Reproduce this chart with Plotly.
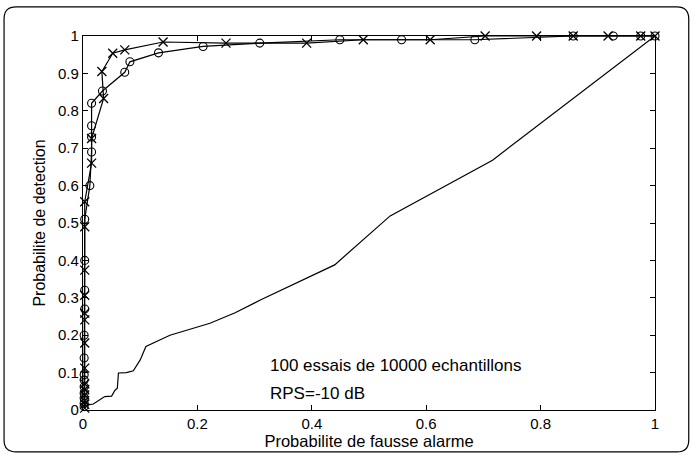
import plotly.graph_objects as go

# ---- data ----
pfa_o = [0.002, 0.002, 0.002, 0.002, 0.002, 0.002, 0.002, 0.002, 0.002, 0.003, 0.003, 0.003, 0.003,
         0.012, 0.015, 0.015, 0.015, 0.015, 0.034, 0.073, 0.082, 0.132, 0.21, 0.309, 0.449, 0.557,
         0.685, 0.857, 0.927, 0.975, 1.0]
pd_o = [0.009, 0.018, 0.032, 0.045, 0.062, 0.08, 0.094, 0.139, 0.2, 0.27, 0.32, 0.40, 0.51,
        0.60, 0.69, 0.73, 0.76, 0.82, 0.853, 0.903, 0.931, 0.955, 0.972, 0.981, 0.99, 0.99,
        0.99, 1.0, 1.0, 1.0, 1.0]

pfa_x = [0.003, 0.003, 0.003, 0.003, 0.003, 0.003, 0.003, 0.003, 0.003, 0.003, 0.003, 0.003, 0.003, 0.003,
         0.015, 0.015, 0.036, 0.033, 0.052, 0.073, 0.14, 0.25, 0.391, 0.49, 0.607, 0.703, 0.793,
         0.857, 0.918, 0.975, 1.0]
pd_x = [0.005, 0.015, 0.025, 0.04, 0.055, 0.07, 0.112, 0.179, 0.241, 0.259, 0.307, 0.374, 0.49, 0.557,
        0.66, 0.726, 0.833, 0.905, 0.954, 0.963, 0.984, 0.981, 0.981, 0.99, 0.99, 1.0, 1.0,
        1.0, 1.0, 1.0, 1.0]

pfa_line = [0.0, 0.006, 0.018, 0.038, 0.05, 0.056, 0.06, 0.062, 0.076, 0.088, 0.10, 0.11, 0.152,
            0.222, 0.266, 0.31, 0.44, 0.537, 0.716, 1.0]
pd_line = [0.01, 0.013, 0.016, 0.036, 0.037, 0.053, 0.058, 0.099, 0.10, 0.105, 0.134, 0.17, 0.20,
           0.232, 0.26, 0.294, 0.388, 0.519, 0.668, 1.0]

x_ticks = [0, 0.2, 0.4, 0.6, 0.8, 1]
x_tick_labels = ["0", "0.2", "0.4", "0.6", "0.8", "1"]
y_ticks = [0, 0.1, 0.2, 0.3, 0.4, 0.5, 0.6, 0.7, 0.8, 0.9, 1]
y_tick_labels = ["0", "0.1", "0.2", "0.3", "0.4", "0.5", "0.6", "0.7", "0.8", "0.9", "1"]

FONT = "Liberation Sans, Arial, Helvetica, sans-serif"

fig = go.Figure()
fig.add_trace(go.Scatter(x=pfa_line, y=pd_line, mode="lines",
                         line=dict(color="black", width=1.2), cliponaxis=False))
fig.add_trace(go.Scatter(x=pfa_o, y=pd_o, mode="lines+markers",
                         line=dict(color="black", width=1.2),
                         marker=dict(symbol="circle-open", size=8, color="black",
                                     line=dict(width=1.1)),
                         cliponaxis=False))
fig.add_trace(go.Scatter(x=pfa_x, y=pd_x, mode="lines+markers",
                         line=dict(color="black", width=1.2),
                         marker=dict(symbol="x-thin-open", size=9, color="black",
                                     line=dict(width=1.3, color="black")),
                         cliponaxis=False))

axis_common = dict(range=[0, 1], showline=True, linecolor="black", linewidth=1.2,
                   mirror="ticks", ticks="inside", ticklen=5, tickcolor="black",
                   showgrid=False, zeroline=False,
                   tickfont=dict(family=FONT, size=15, color="black"))

fig.update_xaxes(tickvals=x_ticks, ticktext=x_tick_labels,
                 title=dict(text="Probabilite de fausse alarme",
                            font=dict(family=FONT, size=16.5, color="black"), standoff=0),
                 **axis_common)
fig.update_yaxes(tickvals=y_ticks, ticktext=y_tick_labels,
                 title=dict(text="Probabilite de detection",
                            font=dict(family=FONT, size=16, color="black"), standoff=8),
                 **axis_common)

fig.add_annotation(x=0.323, y=0.118, xref="paper", yref="paper", xanchor="left",
                   yanchor="middle", showarrow=False,
                   text="100 essais de 10000 echantillons",
                   font=dict(family=FONT, size=17, color="black"))
fig.add_annotation(x=0.323, y=0.045, xref="paper", yref="paper", xanchor="left",
                   yanchor="middle", showarrow=False,
                   text="RPS=-10 dB",
                   font=dict(family=FONT, size=17, color="black"))

# rounded outer frame (paper coords)
L, R, T, B = -0.138, 1.059, 1.078, -0.112
rx, ry = 0.021, 0.032
path = (f"M {L+rx},{T} L {R-rx},{T} Q {R},{T} {R},{T-ry} L {R},{B+ry} Q {R},{B} {R-rx},{B} "
        f"L {L+rx},{B} Q {L},{B} {L},{B+ry} L {L},{T-ry} Q {L},{T} {L+rx},{T} Z")
fig.add_shape(type="path", path=path, xref="paper", yref="paper",
              line=dict(color="black", width=1.2), layer="below")

fig.update_layout(width=693, height=457,
                  margin=dict(l=83, r=38, t=36, b=47),
                  paper_bgcolor="white", plot_bgcolor="white",
                  showlegend=False)

fig.write_html("out.html", config={"displayModeBar": False},
               post_script="document.body.style.margin='0';document.body.style.overflow='hidden';")
